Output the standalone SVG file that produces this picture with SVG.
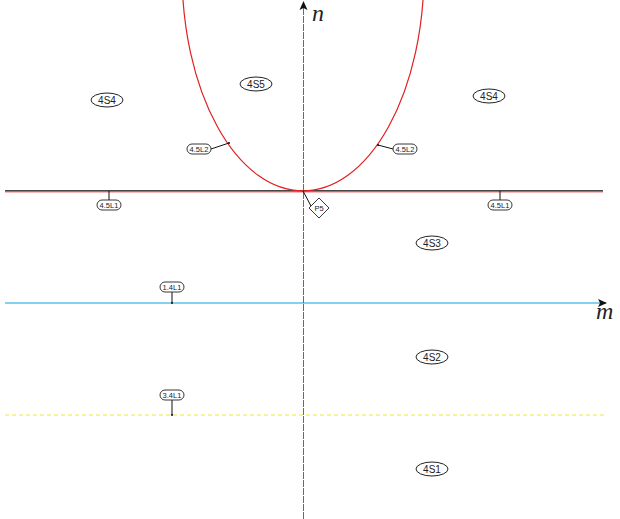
<svg xmlns="http://www.w3.org/2000/svg" width="620" height="519" viewBox="0 0 620 519">
<style>
.lbl{font-family:"Liberation Sans",Arial,sans-serif;font-size:10px;fill:#222;text-anchor:middle}
.sm{font-family:"Liberation Sans",Arial,sans-serif;font-size:7.5px;fill:#222;text-anchor:middle}
.oval{fill:#fff;stroke:#222;stroke-width:1}
.tag{fill:#fff;stroke:#222;stroke-width:0.9}
.lead{stroke:#111;stroke-width:1;fill:none}
.axis{font-family:"Liberation Serif","Times New Roman",serif;font-style:italic;font-size:24px;fill:#222}
</style>
<defs>
<marker id="arr" markerWidth="10" markerHeight="10" refX="8" refY="5" orient="auto" markerUnits="userSpaceOnUse">
<path d="M0,1 L9,5 L0,9 L2,5 Z" fill="#111"/>
</marker>
</defs>
<g id="connectors">
<line x1="5" y1="415" x2="605" y2="415" stroke="#f2e641" stroke-width="1" stroke-dasharray="4,3"/>
<line x1="5" y1="303" x2="606" y2="303" stroke="#5bc0e8" stroke-width="1.3" marker-end="url(#arr)"/>
<line x1="5" y1="191.8" x2="603" y2="191.8" stroke="#e02020" stroke-width="1"/>
<line x1="5" y1="190.6" x2="603" y2="190.6" stroke="#333" stroke-width="1"/>
<path d="M182,-28 A121,219 0 0 0 424,-28" fill="none" stroke="#e02020" stroke-width="1.2"/>
<line x1="303.5" y1="519" x2="303.5" y2="2" stroke="#444" stroke-width="0.8" stroke-dasharray="7,1" marker-end="url(#arr)"/>
<line class="lead" x1="211" y1="149" x2="229" y2="143"/>
<line class="lead" x1="378" y1="145" x2="393" y2="149"/>
<line class="lead" x1="109" y1="191" x2="109" y2="200"/>
<line class="lead" x1="500" y1="191" x2="500" y2="200"/>
<line class="lead" x1="172" y1="292" x2="172" y2="303"/>
<line class="lead" x1="172" y1="400" x2="172" y2="415"/>
<line class="lead" x1="303" y1="191" x2="311" y2="206"/>
<circle cx="229" cy="143" r="1" fill="#111"/>
<circle cx="378" cy="145" r="1" fill="#111"/>
<circle cx="172" cy="303" r="1" fill="#111"/>
<circle cx="172" cy="415" r="1" fill="#111"/>
</g>
<text class="axis" x="312" y="21">n</text>
<text class="axis" x="596" y="319">m</text>
<g id="n4S4a"><ellipse class="oval" cx="107" cy="100" rx="16" ry="7"/><text class="lbl" x="107" y="103.5">4S4</text></g>
<g id="n4S4b"><ellipse class="oval" cx="489" cy="96" rx="16" ry="7"/><text class="lbl" x="489" y="99.5">4S4</text></g>
<g id="n4S5"><ellipse class="oval" cx="256" cy="84" rx="16" ry="7"/><text class="lbl" x="256" y="87.5">4S5</text></g>
<g id="n4S3"><ellipse class="oval" cx="432" cy="243" rx="16" ry="7"/><text class="lbl" x="432" y="246.5">4S3</text></g>
<g id="n4S2"><ellipse class="oval" cx="432" cy="357" rx="16" ry="7"/><text class="lbl" x="432" y="360.5">4S2</text></g>
<g id="n4S1"><ellipse class="oval" cx="432" cy="469" rx="16" ry="7"/><text class="lbl" x="432" y="472.5">4S1</text></g>
<g id="n45L2a"><rect class="tag" x="187" y="144" width="24" height="10" rx="5"/><text class="sm" x="199" y="151.7">4.5L2</text></g>
<g id="n45L2b"><rect class="tag" x="393" y="144" width="24" height="10" rx="5"/><text class="sm" x="405" y="151.7">4.5L2</text></g>
<g id="n45L1a"><rect class="tag" x="97" y="200" width="24" height="10" rx="5"/><text class="sm" x="109" y="207.7">4.5L1</text></g>
<g id="n45L1b"><rect class="tag" x="488" y="200" width="24" height="10" rx="5"/><text class="sm" x="500" y="207.7">4.5L1</text></g>
<g id="n14L1"><rect class="tag" x="160" y="282" width="24" height="10" rx="5"/><text class="sm" x="172" y="289.7">1.4L1</text></g>
<g id="n34L1"><rect class="tag" x="160" y="390" width="24" height="10" rx="5"/><text class="sm" x="172" y="397.7">3.4L1</text></g>
<g id="nP5"><path class="tag" d="M319,198 L329,208 L319,218 L309,208 Z"/><text class="sm" x="319" y="210.7">P5</text></g>
</svg>
